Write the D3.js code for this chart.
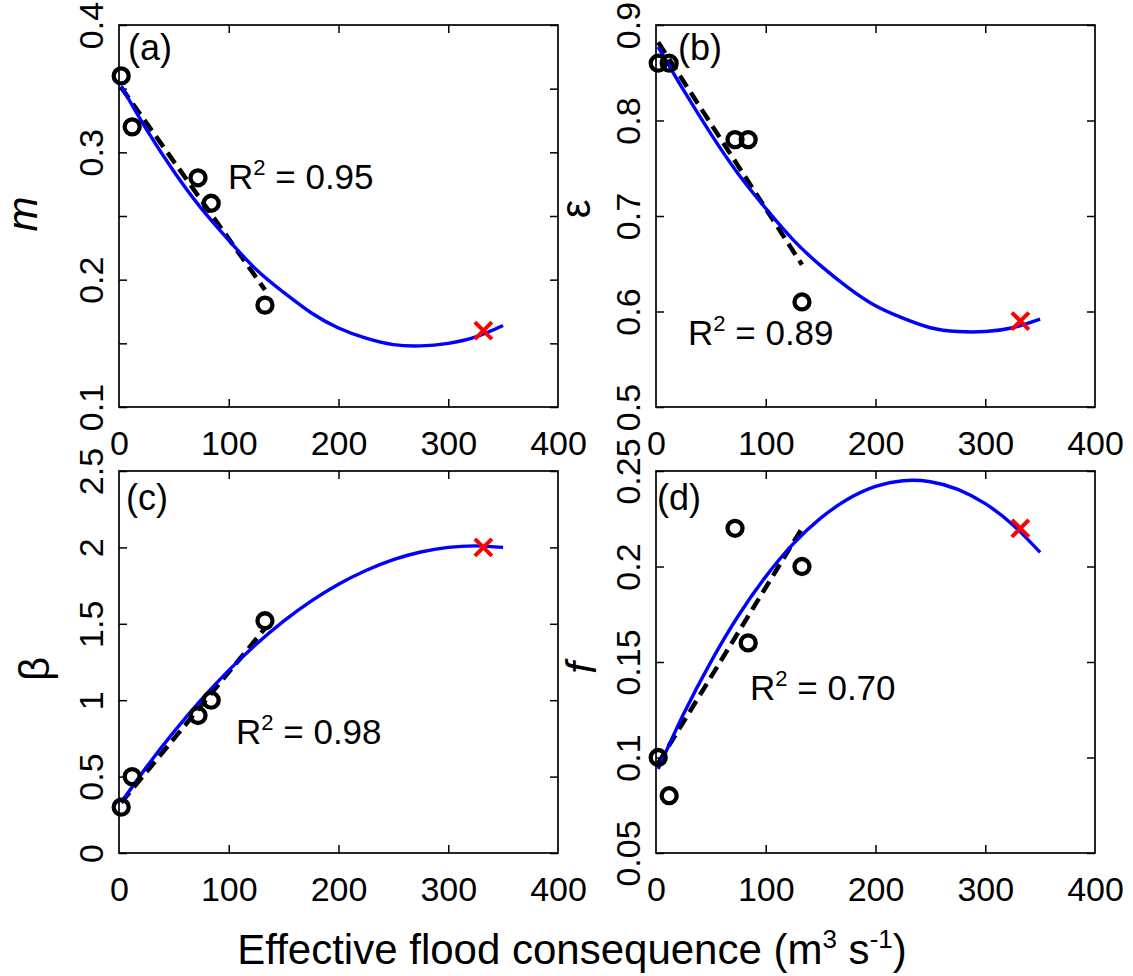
<!DOCTYPE html>
<html>
<head>
<meta charset="utf-8">
<script src="https://cdn.jsdelivr.net/npm/d3@7"></script>
<style>
  body { margin: 0; background: #fff; }
  svg { display: block; font-family: "Liberation Sans", Arial, sans-serif; }
  .tick text { font-size: 34px; fill: #000; }
  .tick line { stroke: #000; stroke-width: 1.5; }
</style>
</head>
<body>
<svg id="fig" width="1133" height="976"></svg>
<script>
// observed sites (flood consequence, m3 s-1)
var xFlood = [2, 12, 72, 84, 133];
var xPredict = 332;
// sample positions of the fitted curves
var xFit = [2, 25, 50, 75, 100, 125, 150, 175, 200, 225, 250, 275, 300, 325, 350];
// linear fit drawn between first and last site
var xLin = [2, 133];

var mObs = [0.36, 0.32, 0.28, 0.26, 0.18];
var mFit = [0.352, 0.318, 0.285, 0.256, 0.231, 0.208, 0.190, 0.174, 0.162, 0.154, 0.149, 0.148, 0.150, 0.155, 0.164];
var mLin = [0.351, 0.192];
var mPred = 0.16;

var epsObs = [0.86, 0.86, 0.78, 0.78, 0.61];
var epsFit = [0.877, 0.832, 0.786, 0.744, 0.708, 0.675, 0.648, 0.625, 0.606, 0.593, 0.583, 0.579, 0.579, 0.583, 0.592];
var epsLin = [0.882, 0.649];
var epsPred = 0.59;

var betaObs = [0.30, 0.50, 0.90, 1.00, 1.52];
var betaFit = [0.33, 0.562, 0.793, 1.004, 1.195, 1.366, 1.517, 1.648, 1.759, 1.849, 1.920, 1.970, 2.000, 2.010, 2.000];
var betaLin = [0.33, 1.47];
var betaPred = 2.0;

var fObs = [0.10, 0.08, 0.22, 0.16, 0.20];
var fFit = [0.094, 0.1226, 0.1501, 0.1742, 0.1947, 0.2118, 0.2253, 0.2353, 0.2419, 0.2449, 0.2444, 0.2404, 0.2329, 0.2219, 0.2074];
var fLin = [0.097, 0.220];
var fPred = 0.22;

var xTicks = [0, 100, 200, 300, 400];
var mTicks = [0.1, 0.15, 0.2, 0.25, 0.3, 0.35, 0.4];
var mLabels = [0.1, 0.2, 0.3, 0.4];
var epsTicks = [0.5, 0.6, 0.7, 0.8, 0.9];
var betaTicks = [0, 0.5, 1, 1.5, 2, 2.5];
var fTicks = [0.05, 0.1, 0.15, 0.2, 0.25];
var r2Text = ["0.95", "0.89", "0.98", "0.70"];
var panelTags = ["(a)", "(b)", "(c)", "(d)"];

var W = 439, H = 382;
var panels = [
  {left: 119, top: 25, obs: mObs, fit: mFit, lin: mLin, pred: mPred, dom: [0.1, 0.4], ticks: mTicks, labels: mLabels,
   tag: [9, 35], r2: [109, 164], yTitle: "m", italic: true, yTitlePos: [37, 214]},
  {left: 656, top: 25, obs: epsObs, fit: epsFit, lin: epsLin, pred: epsPred, dom: [0.5, 0.9], ticks: epsTicks, labels: epsTicks,
   tag: [22, 35], r2: [32, 320], yTitle: "ε", italic: false, yTitlePos: [590, 209]},
  {left: 119, top: 471, obs: betaObs, fit: betaFit, lin: betaLin, pred: betaPred, dom: [0, 2.5], ticks: betaTicks, labels: betaTicks,
   tag: [7, 39], r2: [117, 273], yTitle: "β", italic: false, yTitlePos: [49, 669]},
  {left: 656, top: 471, obs: fObs, fit: fFit, lin: fLin, pred: fPred, dom: [0.05, 0.25], ticks: fTicks, labels: fTicks,
   tag: [1, 39], r2: [94, 229], yTitle: "f", italic: true, yTitlePos: [596, 668]}
];

var svg = d3.select("#fig");

panels.forEach(function(p, i) {
  var x = d3.scaleLinear().domain([0, 400]).range([0, W]);
  var y = d3.scaleLinear().domain(p.dom).range([H, 0]);
  var g = svg.append("g").attr("transform", "translate(" + p.left + "," + p.top + ")");

  // bottom axis with labels, ticks pointing inward
  var xb = g.append("g").attr("transform", "translate(0," + H + ")")
    .call(d3.axisBottom(x).tickValues(xTicks).tickSizeInner(-8).tickSizeOuter(0).tickPadding(24));
  xb.select(".domain").remove();
  xb.selectAll(".tick").filter(function(d) { return d === 0 || d === 400; }).select("line").remove();

  var xt = g.append("g")
    .call(d3.axisTop(x).tickValues([100, 200, 300]).tickSizeInner(-8).tickSizeOuter(0).tickFormat(""));
  xt.select(".domain").remove();

  // left axis: ticks inward, labels rotated
  var yl = g.append("g")
    .call(d3.axisLeft(y).tickValues(p.ticks).tickSizeInner(-8).tickSizeOuter(0)
      .tickFormat(function(d) { return p.labels.indexOf(d) >= 0 ? String(d) : ""; }));
  yl.select(".domain").remove();
  yl.selectAll(".tick text")
    .attr("x", null).attr("dy", null)
    .attr("text-anchor", "middle")
    .attr("transform", "translate(-16,0) rotate(-90)");

  var yr = g.append("g").attr("transform", "translate(" + W + ",0)")
    .call(d3.axisRight(y).tickValues(p.ticks).tickSizeInner(-8).tickSizeOuter(0).tickFormat(""));
  yr.select(".domain").remove();

  g.append("rect").attr("width", W).attr("height", H)
    .attr("fill", "none").attr("stroke", "#000").attr("stroke-width", 1.7);

  // dashed linear fit
  g.append("path")
    .datum(xLin.map(function(d, k) { return [d, p.lin[k]]; }))
    .attr("d", d3.line().x(function(d) { return x(d[0]); }).y(function(d) { return y(d[1]); }))
    .attr("fill", "none").attr("stroke", "#000").attr("stroke-width", 4.5)
    .attr("stroke-dasharray", "13,7");

  // fitted curve
  g.append("path")
    .datum(xFit.map(function(d, k) { return [d, p.fit[k]]; }))
    .attr("d", d3.line().curve(d3.curveNatural).x(function(d) { return x(d[0]); }).y(function(d) { return y(d[1]); }))
    .attr("fill", "none").attr("stroke", "#0000ff").attr("stroke-width", 3.4);

  // observed points
  g.selectAll("circle.obs")
    .data(xFlood.map(function(d, k) { return [d, p.obs[k]]; }))
    .join("circle").attr("class", "obs")
    .attr("cx", function(d) { return x(d[0]); })
    .attr("cy", function(d) { return y(d[1]); })
    .attr("r", 7.5)
    .attr("fill", "none").attr("stroke", "#000").attr("stroke-width", 4.3);

  // predicted point (red cross)
  var px = x(xPredict), py = y(p.pred), s = 8.5;
  g.append("path")
    .attr("d", "M" + (px - s) + "," + (py - s) + "L" + (px + s) + "," + (py + s) +
               "M" + (px - s) + "," + (py + s) + "L" + (px + s) + "," + (py - s))
    .attr("stroke", "#ff0000").attr("stroke-width", 4);

  g.append("text").attr("x", p.tag[0]).attr("y", p.tag[1])
    .attr("font-size", 36).text(panelTags[i]);

  var rt = g.append("text").attr("x", p.r2[0]).attr("y", p.r2[1]).attr("font-size", 35);
  rt.append("tspan").text("R");
  rt.append("tspan").attr("font-size", 22).attr("dy", -14).text("2");
  rt.append("tspan").attr("dy", 14).text(" = " + r2Text[i]);

  svg.append("text")
    .attr("transform", "translate(" + p.yTitlePos[0] + "," + p.yTitlePos[1] + ") rotate(-90)")
    .attr("text-anchor", "middle")
    .attr("font-size", 42)
    .attr("font-style", p.italic ? "italic" : "normal")
    .text(p.yTitle);
});

// shared x-axis title
var t = svg.append("text").attr("x", 572).attr("y", 964)
  .attr("text-anchor", "middle").attr("font-size", 42);
t.append("tspan").text("Effective flood consequence (m");
t.append("tspan").attr("font-size", 26).attr("dy", -16).text("3");
t.append("tspan").attr("dy", 16).text(" s");
t.append("tspan").attr("font-size", 26).attr("dy", -16).text("-1");
t.append("tspan").attr("dy", 16).text(")");
</script>
</body>
</html>
